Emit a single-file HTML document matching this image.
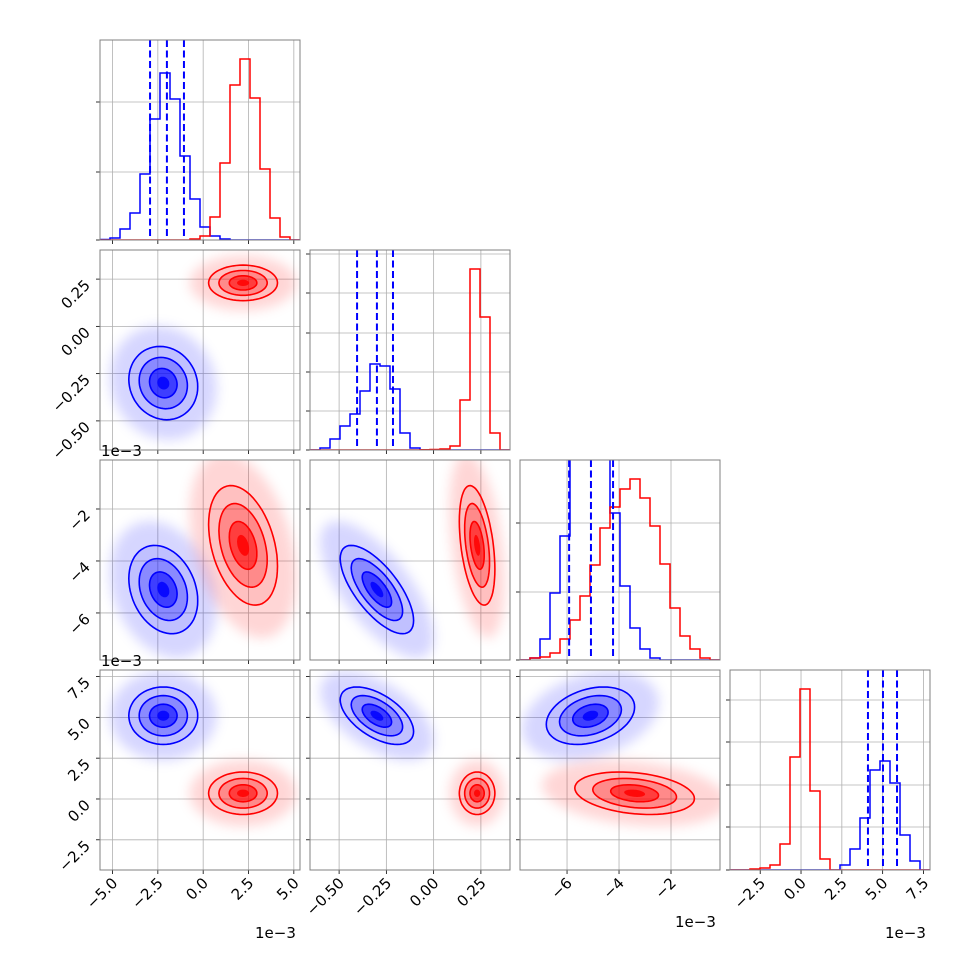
<!DOCTYPE html>
<html><head><meta charset="utf-8"><style>
html,body{margin:0;padding:0;background:#fff;}
svg{display:block;font-family:"DejaVu Sans","Liberation Sans",sans-serif;}
</style></head><body>
<svg id="chart" width="970" height="970" viewBox="0 0 970 970" xmlns="http://www.w3.org/2000/svg">
<defs><filter id="blur" x="-50%" y="-50%" width="200%" height="200%"><feGaussianBlur stdDeviation="6"/></filter></defs>
</svg>
<script>
// ---- data ----
const paramLo = [-5.69, -0.654, -7.81, -4.35];
const paramHi = [5.34, 0.404, -0.115, 7.9];
const tickVals0 = [-5, -2.5, 0, 2.5, 5];
const tickLabels0 = ["−5.0","−2.5","0.0","2.5","5.0"];
const tickVals1 = [-0.5, -0.25, 0, 0.25];
const tickLabels1 = ["−0.50","−0.25","0.00","0.25"];
const tickVals2 = [-6, -4, -2];
const tickLabels2 = ["−6","−4","−2"];
const tickVals3 = [-2.5, 0, 2.5, 5, 7.5];
const tickLabels3 = ["−2.5","0.0","2.5","5.0","7.5"];
const histBlue0 = [0.5,2,11,27,66,121,167,141,84,41,13,4,1,0,0,0,0,0,0,0];
const histRed0  = [0,0,0,0,0,0,0,0,0,1,4,23,77,155,181,142,71,22,3,0];
const histBlue1 = [0,2,11,24,36,59,86,84,61,17,2,0,0,0,0,0,0,0,0,0];
const histRed1  = [0,0,0,0,0,0,0,0,0,0,0,0.3,0.5,1,4,50,181,133,17,0];
const histBlue2 = [0,2,21,67,124,230,260,250,215,147,74,32,11,2,0,0,0,0,0,0];
const histRed2  = [0,2,3,7,21,40,64,95,132,153,171,181,162,134,96,52,24,11,2,0];
const histBlue3 = [0,0,0,0,0,0,0,0,0,0,0,5,21,52,100,109,87,35,9,0];
const histRed3  = [0,0,1,2,5,26,113,181,79,11,0,0,0,0,0,0,0,0,0,0];
const histTicks0 = [68,138];
const histTicks1 = [39,78,117,157,196];
const histTicks2 = [68,137];
const histTicks3 = [43,85,128,170];
const quantiles0 = [-2.93,-2.0,-1.06];
const quantiles1 = [-0.405,-0.30,-0.215];
const quantiles2 = [-5.92,-5.08,-4.23];
const quantiles3 = [4.10,5.02,5.88];
const blueMean = [-2.2,-0.30,-5.1,5.1];
const blueSd = [0.95,0.097,0.85,0.88];
const redMean = [2.2,0.23,-3.4,0.35];
const redSd = [0.95,0.047,1.15,0.65];
const blueRho = [[1,-0.1,-0.25,0],[-0.1,1,-0.7,-0.55],[-0.25,-0.7,1,0.3],[0,-0.55,0.3,1]];
const redRho = [[1,0,-0.35,0],[0,1,-0.4,0],[-0.35,-0.4,1,-0.25],[0,0,-0.25,1]];
const contourLevels = [2.0,1.4,0.8];

const tickVals=[tickVals0,tickVals1,tickVals2,tickVals3];
const tickLabels=[tickLabels0,tickLabels1,tickLabels2,tickLabels3];
const hists=[[histBlue0,histRed0],[histBlue1,histRed1],[histBlue2,histRed2],[histBlue3,histRed3]];
const histTicks=[histTicks0,histTicks1,histTicks2,histTicks3];
const quantiles=[quantiles0,quantiles1,quantiles2,quantiles3];

const svg=document.getElementById('chart');
const NS='http://www.w3.org/2000/svg';
const S=200;
function px0(c){return 100+210*c;}
function py0(r){return 40+210*r;}
function mk(tag,attrs,parent){const e=document.createElementNS(NS,tag);for(const k in attrs)e.setAttribute(k,attrs[k]);(parent||svg).appendChild(e);return e;}
function xs(p,c,v){return px0(c)+(v-paramLo[p])/(paramHi[p]-paramLo[p])*S;}
function ys(p,r,v){return py0(r)+S-(v-paramLo[p])/(paramHi[p]-paramLo[p])*S;}

for(let r=0;r<4;r++){for(let c=0;c<=r;c++){
  const x0=px0(c),y0=py0(r);
  const g=mk('g',{});
  
  
  const cid='clip'+r+c;
  const cp=mk('clipPath',{id:cid},g);mk('rect',{x:x0,y:y0,width:S,height:S},cp);
  tickVals[c].forEach(v=>{const X=xs(c,c,v);mk('line',{x1:X,x2:X,y1:y0,y2:y0+S,stroke:'#b0b0b0','stroke-width':0.8},g);
    mk('line',{x1:X,x2:X,y1:y0+S,y2:y0+S+4,stroke:'#000','stroke-width':0.8},g);});
  if(r===c){
    histTicks[r].forEach(v=>{const Y=y0+S-v;mk('line',{x1:x0,x2:x0+S,y1:Y,y2:Y,stroke:'#b0b0b0','stroke-width':0.8},g);
      mk('line',{x1:x0-4,x2:x0,y1:Y,y2:Y,stroke:'#000','stroke-width':0.8},g);});
    mk('line',{x1:x0-4,x2:x0,y1:y0+S,y2:y0+S,stroke:'#000','stroke-width':0.8},g);
    const hg=mk('g',{'clip-path':'url(#'+cid+')'},g);
    ['#0000ff','#ff0000'].forEach((col,ci)=>{
      const h=hists[r][ci];const n=h.length;let d='M'+x0+','+(y0+S);
      h.forEach((v,k)=>{const xa=x0+k*S/n,xb=x0+(k+1)*S/n,Y=y0+S-v;d+=' L'+xa+','+Y+' L'+xb+','+Y;});
      d+=' L'+(x0+S)+','+(y0+S);
      const p=mk('path',{d:d,fill:'none',stroke:col,'stroke-width':1.5},hg);
      
      
    });
    quantiles[r].forEach(q=>{const X=xs(r,c,q);const l=mk('line',{x1:X,x2:X,y1:y0,y2:y0+S,stroke:'#0000ff','stroke-width':2,'stroke-dasharray':'7,3.5'},hg);
      
      });
  } else {
    tickVals[r].forEach(v=>{const Y=ys(r,r,v);mk('line',{x1:x0,x2:x0+S,y1:Y,y2:Y,stroke:'#b0b0b0','stroke-width':0.8},g);
      mk('line',{x1:x0-4,x2:x0,y1:Y,y2:Y,stroke:'#000','stroke-width':0.8},g);});
    const dg=mk('g',{'clip-path':'url(#'+cid+')'},g);
    [[blueMean,blueSd,blueRho,'#0000ff'],[redMean,redSd,redRho,'#ff0000']].forEach(([m,sd,rh,col])=>{
      const cx=xs(c,c,m[c]),cy=ys(r,r,m[r]);
      const kx=S/(paramHi[c]-paramLo[c]),ky=S/(paramHi[r]-paramLo[r]);
      const sx=sd[c]*kx,sy=sd[r]*ky,rho=rh[c][r];
      function ell(k){let pts=[];for(let i=0;i<64;i++){const t=i/64*2*Math.PI;
        const X=cx+k*sx*Math.cos(t);const Y=cy-k*sy*(rho*Math.cos(t)+Math.sqrt(1-rho*rho)*Math.sin(t));
        pts.push(X.toFixed(1)+','+Y.toFixed(1));}return pts.join(' ');}
      const cloud=mk('polygon',{points:ell(3.1),fill:col,'fill-opacity':0.16,filter:'url(#blur)'},dg);
      
      
      const fills=[0.1,0.28,0.55];
      contourLevels.forEach((k,i)=>{mk('polygon',{points:ell(k),fill:col,'fill-opacity':fills[i],stroke:'none'},dg);});
      mk('polygon',{points:ell(0.35),fill:col,'fill-opacity':0.85},dg);
      contourLevels.forEach(k=>{const p=mk('polygon',{points:ell(k),fill:'none',stroke:col,'stroke-width':1.6},dg);
        
        });
    });
  }
  mk('rect',{x:x0,y:y0,width:S,height:S,fill:'none',stroke:'#808080','stroke-width':1},g);
}}

function label(txt,x,y,name){
  const t=mk('text',{x:x,y:y,'text-anchor':'end','font-size':15,fill:'#000',transform:'rotate(-45 '+x+' '+y+')'});
  t.textContent=txt;
  
  
}
for(let c=0;c<4;c++){tickVals[c].forEach((v,i)=>{const X=xs(c,c,v);label(tickLabels[c][i],X+6,py0(3)+S+14,'x-tick-label');});}
for(let r=1;r<4;r++){tickVals[r].forEach((v,i)=>{const Y=ys(r,r,v);label(tickLabels[r][i],91,Y+7,'y-tick-label');});}
[[255,938,'x-offset-label-0'],[675,927,'x-offset-label-2'],[885,938,'x-offset-label-3'],[101,456,'y-offset-label-2'],[101,666,'y-offset-label-3']].forEach(([x,y,n])=>{
  const t=mk('text',{x:x,y:y,'font-size':15,fill:'#000'});t.textContent='1e−3';
  
  });
</script>
</body></html>
